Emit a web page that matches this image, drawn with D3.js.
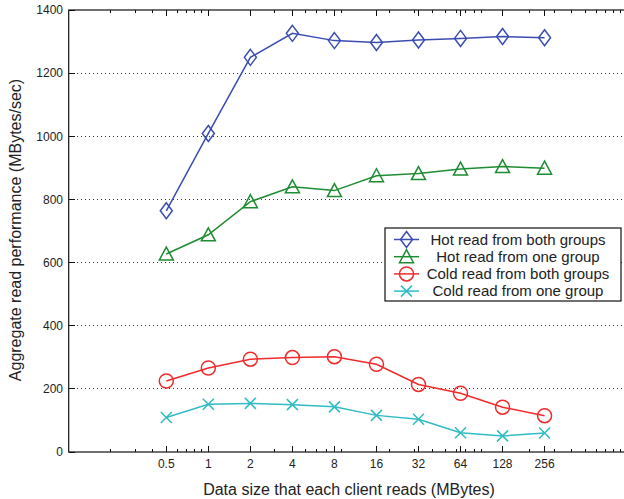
<!DOCTYPE html>
<html><head><meta charset="utf-8">
<script src="https://cdn.jsdelivr.net/npm/d3@7"></script>
<style>
body{margin:0;background:#fff;}
text{font-family:"Liberation Sans",Arial,Helvetica,sans-serif;fill:#222;}
</style></head>
<body>
<script>
const sizes = [0.5, 1, 2, 4, 8, 16, 32, 64, 128, 256];
const xTickLabels = ["0.5","1","2","4","8","16","32","64","128","256"];
const yTicks = [0, 200, 400, 600, 800, 1000, 1200, 1400];
const seriesNames = ["Hot read from both groups","Hot read from one group","Cold read from both groups","Cold read from one group"];
const hotBoth  = [764, 1009, 1250, 1326, 1303, 1297, 1305, 1310, 1316, 1312];
const hotOne   = [627, 688, 793, 840, 828, 875, 882, 896, 904, 899];
const coldBoth = [225, 266, 294, 299, 302, 278, 214, 186, 142, 115];
const coldOne  = [109, 151, 154, 150, 143, 116, 104, 61, 51, 60];
const xTitle = "Data size that each client reads (MBytes)";
const yTitle = "Aggregate read performance (MBytes/sec)";

const W = 624, H = 499;
const svg = d3.select("body").append("svg").attr("width", W).attr("height", H);
const x = d3.scaleLog().domain([0.1, 1000]).range([68.7, 627.2]);
const y = d3.scaleLinear().domain([0, 1400]).range([452, 10]);
const L = x.range()[0], R = x.range()[1], T = y.range()[1], B = y.range()[0];

const colors = ["#3b4db3", "#1e8c32", "#f22a2a", "#2fbcc4"];
const markers = ["diamond", "triangle", "circle", "x"];
const series = [hotBoth, hotOne, coldBoth, coldOne];

// gridlines
svg.append("g").selectAll("line").data(yTicks.filter(v => v > 0 && v < 1400)).join("line")
  .attr("x1", L).attr("x2", R).attr("y1", d => y(d)).attr("y2", d => y(d))
  .attr("stroke", "#333").attr("stroke-width", 1).attr("stroke-dasharray", "1,3")
  .attr("shape-rendering", "crispEdges");

// minor x ticks (log)
const minor = [];
[0.1, 1, 10, 100].forEach(dec => { for (let k = 2; k <= 9; k++) minor.push(dec * k); });
const minorT = minor.filter(v => !sizes.includes(v));
const tg = svg.append("g").attr("stroke", "#111").attr("stroke-width", 1).attr("shape-rendering", "crispEdges");
minorT.forEach(v => {
  tg.append("line").attr("x1", x(v)).attr("x2", x(v)).attr("y1", B).attr("y2", B - 3);
  tg.append("line").attr("x1", x(v)).attr("x2", x(v)).attr("y1", T).attr("y2", T + 3);
});
sizes.forEach(v => {
  tg.append("line").attr("x1", x(v)).attr("x2", x(v)).attr("y1", B).attr("y2", B - 6);
  tg.append("line").attr("x1", x(v)).attr("x2", x(v)).attr("y1", T).attr("y2", T + 6);
});
yTicks.forEach(v => {
  tg.append("line").attr("x1", L).attr("x2", L + 6).attr("y1", y(v)).attr("y2", y(v));
});

// axes frame
svg.append("rect").attr("x", L).attr("y", T).attr("width", R - L).attr("height", B - T)
  .attr("fill", "none").attr("stroke", "#111").attr("stroke-width", 1.2);

// tick labels
svg.append("g").selectAll("text").data(sizes).join("text")
  .attr("x", d => x(d)).attr("y", 468).attr("text-anchor", "middle")
  .attr("font-size", 12).text((d, i) => xTickLabels[i]);
svg.append("g").selectAll("text").data(yTicks).join("text")
  .attr("x", 63).attr("y", d => y(d) + 4.3).attr("text-anchor", "end")
  .attr("font-size", 12).text(d => d);

// titles
svg.append("text").attr("x", (202 + 496) / 2).attr("y", 495).attr("text-anchor", "middle")
  .attr("font-size", 16).text(xTitle);
svg.append("text").attr("transform", "translate(21,230) rotate(-90)").attr("text-anchor", "middle")
  .attr("font-size", 16).text(yTitle);

function drawMarker(g, type, cx, cy, color) {
  if (type === "diamond") {
    g.append("path").attr("d", `M${cx},${cy-8}L${cx+6},${cy}L${cx},${cy+8}L${cx-6},${cy}Z`)
      .attr("fill", "none").attr("stroke", color).attr("stroke-width", 1.5);
  } else if (type === "triangle") {
    g.append("path").attr("d", `M${cx},${cy-7}L${cx+7},${cy+6}L${cx-7},${cy+6}Z`)
      .attr("fill", "none").attr("stroke", color).attr("stroke-width", 1.5);
  } else if (type === "circle") {
    g.append("circle").attr("cx", cx).attr("cy", cy).attr("r", 7)
      .attr("fill", "none").attr("stroke", color).attr("stroke-width", 1.5);
  } else {
    g.append("path").attr("d", `M${cx-5.5},${cy-5.5}L${cx+5.5},${cy+5.5}M${cx-5.5},${cy+5.5}L${cx+5.5},${cy-5.5}`)
      .attr("fill", "none").attr("stroke", color).attr("stroke-width", 1.5);
  }
}

const line = d3.line().x((d, i) => x(sizes[i])).y(d => y(d));
series.forEach((s, si) => {
  const g = svg.append("g");
  g.append("path").attr("d", line(s)).attr("fill", "none")
    .attr("stroke", colors[si]).attr("stroke-width", 1.5);
  s.forEach((v, i) => drawMarker(g, markers[si], x(sizes[i]), y(v), colors[si]));
});

// legend
const lg = svg.append("g");
lg.append("rect").attr("x", 385).attr("y", 228).attr("width", 236).attr("height", 73)
  .attr("fill", "#fff").attr("stroke", "#111").attr("stroke-width", 1.2);
seriesNames.forEach((name, i) => {
  const ry = 239.5 + i * 17.2;
  lg.append("line").attr("x1", 394).attr("x2", 419).attr("y1", ry).attr("y2", ry)
    .attr("stroke", colors[i]).attr("stroke-width", 1.5);
  drawMarker(lg, markers[i], 406.5, ry, colors[i]);
  lg.append("text").attr("x", 518).attr("y", ry + 5).attr("text-anchor", "middle")
    .attr("font-size", 15).text(name);
});
</script>
</body></html>
